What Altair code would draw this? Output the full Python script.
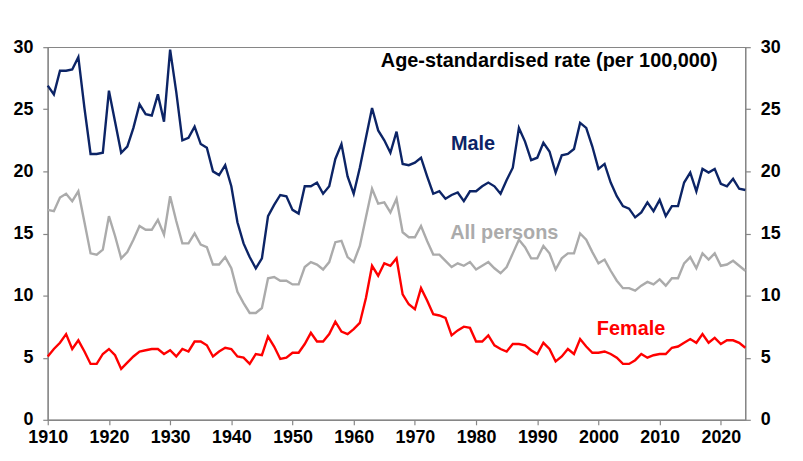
import altair as alt
import pandas as pd

years = list(range(1910, 2025))

male = [26.9, 26.2, 28.1, 28.1, 28.2, 29.2, 25.1, 21.4, 21.4, 21.5,
        26.5, 24.0, 21.5, 22.0, 23.5, 25.4, 24.6, 24.5, 26.2, 24.0,
        29.8, 26.4, 22.5, 22.7, 23.6, 22.2, 21.9, 20.0, 19.7, 20.5,
        18.8, 15.9, 14.2, 13.1, 12.2, 13.0, 16.4, 17.3, 18.1, 18.0,
        16.9, 16.6, 18.8, 18.8, 19.1, 18.2, 18.8, 21.0, 22.2, 19.6,
        18.2, 20.3, 22.7, 25.1, 23.3, 22.5, 21.5, 23.2, 20.6, 20.5,
        20.7, 21.1, 19.6, 18.2, 18.4, 17.8, 18.1, 18.3, 17.6, 18.4,
        18.4, 18.8, 19.1, 18.8, 18.2, 19.3, 20.3, 23.5, 22.4, 20.9,
        21.1, 22.3, 21.6, 19.9, 21.3, 21.4, 21.8, 23.9, 23.5, 22.0,
        20.2, 20.6, 19.1, 18.0, 17.2, 17.0, 16.3, 16.7, 17.5, 16.8,
        17.7, 16.4, 17.2, 17.2, 19.1, 19.9, 18.4, 20.2, 19.9, 20.2,
        19.0, 18.8, 19.4, 18.6, 18.5]

all_persons = [16.9, 16.8, 17.9, 18.2, 17.6, 18.4, 15.9, 13.4, 13.3, 13.7,
               16.4, 14.8, 13.0, 13.5, 14.5, 15.6, 15.3, 15.3, 16.1, 14.9,
               18.0, 16.0, 14.2, 14.2, 15.0, 14.1, 13.9, 12.5, 12.5, 13.1,
               12.2, 10.3, 9.4, 8.6, 8.6, 9.0, 11.4, 11.5, 11.2, 11.2,
               10.9, 10.9, 12.3, 12.7, 12.5, 12.1, 12.7, 14.3, 14.4, 13.1,
               12.7, 14.0, 16.3, 18.6, 17.4, 17.5, 16.7, 17.8, 15.1, 14.7,
               14.7, 15.6, 14.4, 13.3, 13.3, 12.8, 12.3, 12.6, 12.4, 12.7,
               12.1, 12.4, 12.7, 12.2, 11.8, 12.3, 13.4, 14.5, 13.9, 13.0,
               13.0, 14.0, 13.4, 12.1, 13.0, 13.4, 13.4, 15.0, 14.5, 13.5,
               12.6, 12.9, 12.0, 11.2, 10.6, 10.6, 10.4, 10.8, 11.1, 10.9,
               11.3, 10.8, 11.4, 11.4, 12.6, 13.1, 12.2, 13.4, 12.9, 13.4,
               12.4, 12.5, 12.8, 12.4, 12.0]

female = [5.1, 5.7, 6.2, 6.9, 5.7, 6.4, 5.5, 4.5, 4.5, 5.3,
          5.7, 5.2, 4.1, 4.6, 5.1, 5.5, 5.6, 5.7, 5.7, 5.3,
          5.6, 5.1, 5.7, 5.5, 6.3, 6.3, 6.0, 5.1, 5.5, 5.8,
          5.7, 5.1, 5.0, 4.5, 5.3, 5.2, 6.7, 5.9, 4.9, 5.0,
          5.4, 5.4, 6.1, 7.0, 6.3, 6.3, 6.9, 7.9, 7.1, 6.9,
          7.3, 7.8, 9.8, 12.4, 11.6, 12.6, 12.4, 13.0, 10.1, 9.3,
          8.9, 10.6, 9.6, 8.5, 8.4, 8.2, 6.8, 7.2, 7.5, 7.4,
          6.3, 6.3, 6.8, 6.0, 5.7, 5.5, 6.1, 6.1, 6.0, 5.6,
          5.3, 6.2, 5.7, 4.7, 5.1, 5.7, 5.3, 6.5, 5.9, 5.4,
          5.4, 5.5, 5.3, 5.0, 4.5, 4.5, 4.8, 5.3, 5.0, 5.2,
          5.3, 5.3, 5.8, 5.9, 6.2, 6.5, 6.2, 6.9, 6.2, 6.6,
          6.1, 6.4, 6.4, 6.2, 5.8]

series_names = ["Male", "All persons", "Female"]
series_colors = ["#0C2466", "#ABABAB", "#FF0000"]
x_ticks = [1910, 1920, 1930, 1940, 1950, 1960, 1970, 1980, 1990, 2000, 2010, 2020]
y_ticks = [0, 5, 10, 15, 20, 25, 30]

rows = []
for name, vals in zip(series_names, [male, all_persons, female]):
    for yr, v in zip(years, vals):
        rows.append({"year": yr, "value": v, "series": name})
df = pd.DataFrame(rows)

FONT = "Liberation Sans"
W, H = 702, 375

axis_style = dict(
    grid=False, labelFont=FONT, labelFontWeight="bold", labelFontSize=18,
    labelColor="#000000", domainColor="#868686", tickColor="#868686",
    tickSize=5, domainWidth=1.2, tickWidth=1.2, title=None,
)

xenc = alt.X("year:Q",
             scale=alt.Scale(domain=[1910, 2024], nice=False, zero=False),
             axis=alt.Axis(values=x_ticks, format="d", labelPadding=4,
                           labelFlush=False, labelOverlap=False, **axis_style))
color = alt.Color("series:N",
                  scale=alt.Scale(domain=series_names, range=series_colors),
                  legend=None)
yscale = alt.Scale(domain=[0, 30], nice=False, zero=True)

lines = alt.Chart(df).mark_line(strokeWidth=2.4).encode(
    x=xenc,
    y=alt.Y("value:Q", scale=yscale,
            axis=alt.Axis(values=y_ticks, orient="left", labelPadding=10, **axis_style)),
    color=color,
    order=alt.Order("year:Q"),
)

right = alt.Chart(df).mark_line(opacity=0).encode(
    x=xenc,
    y=alt.Y("value:Q", scale=yscale,
            axis=alt.Axis(values=y_ticks, orient="right", labelPadding=10, **axis_style)),
    detail="series:N",
)

def label(text, x, y, col, align="center"):
    return alt.Chart(pd.DataFrame({"t": [text]})).mark_text(
        font=FONT, fontWeight="bold", fontSize=20, color=col, align=align,
        baseline="middle").encode(text="t:N", x=alt.value(x), y=alt.value(y))

title_t = label("Age-standardised rate (per 100,000)", 674, 14, "#000000", align="right")
male_t = label("Male", 428, 97, series_colors[0])
all_t = label("All persons", 405, 187, series_colors[1], align="left")
fem_t = label("Female", 587, 284, series_colors[2])

chart = alt.layer(lines, right, title_t, male_t, all_t, fem_t).resolve_scale(
    y="independent"
).properties(
    width=W, height=H,
    background="white",
    autosize=alt.AutoSizeParams(type="none"),
    padding={"left": 40, "top": 38, "right": 50, "bottom": 35},
).configure_view(
    stroke="#868686", strokeWidth=1.2
)

chart.save("out.html", embed_options={"renderer": "svg", "actions": False})
